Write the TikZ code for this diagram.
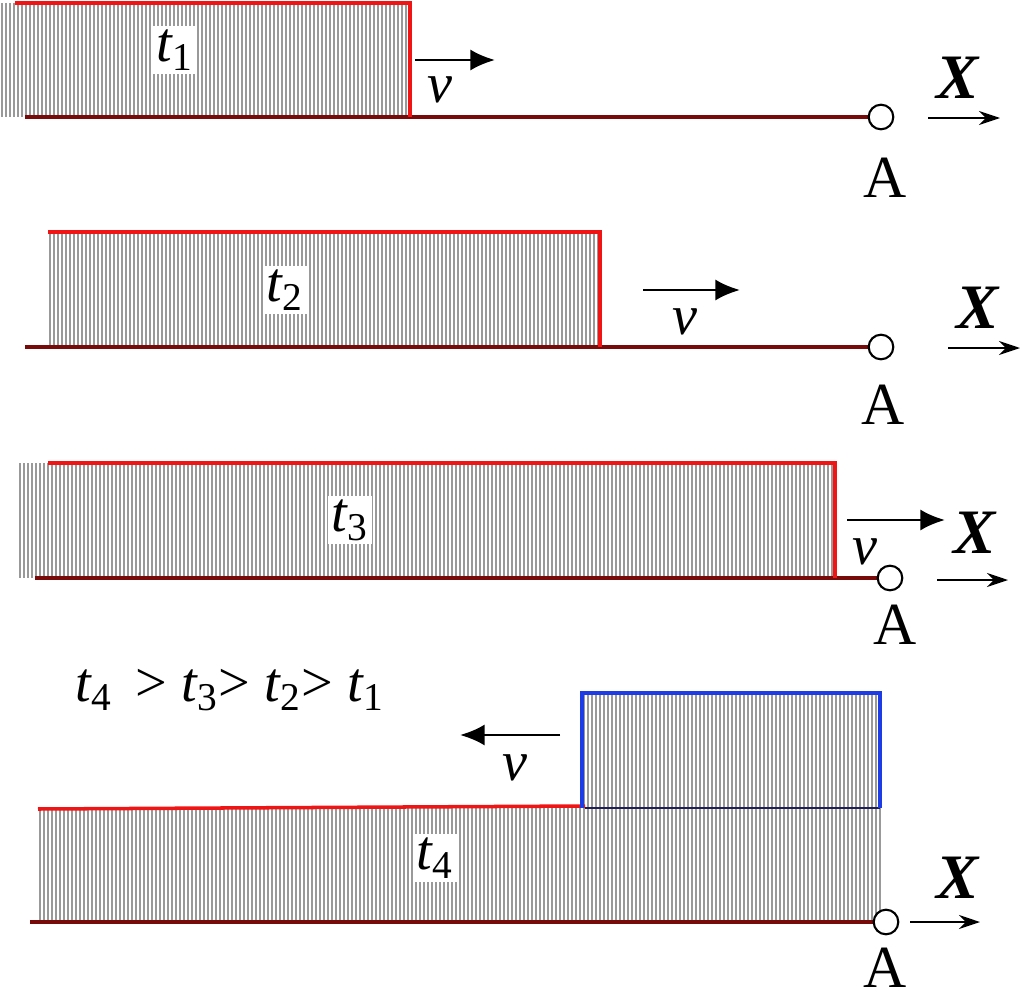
\documentclass[tikz,border=0pt]{standalone}
\usepackage{fontspec}
\setmainfont{Liberation Serif}
\usetikzlibrary{arrows.meta}
\definecolor{front}{RGB}{240, 20, 20}
\definecolor{back}{RGB}{30, 60, 230}
\definecolor{ground}{RGB}{120, 10, 10}
\definecolor{seam}{RGB}{30, 30, 90}
\tikzset{
  hatchline/.style={gray!80, line width=0.3pt},
  frontline/.style={front, line width=1pt},
  baseline/.style={ground, line width=1pt},
  velo/.style={-{Latex[length=7pt, width=6pt]}, line width=0.8pt},
  axis/.style={-{Stealth[length=6pt, width=4pt]}, line width=0.5pt},
  lbl/.style={font=\fontsize{16}{18}\selectfont\itshape, inner sep=1pt},
  tlbl/.style={lbl, fill=white},
  xlbl/.style={font=\fontsize{18}{20}\selectfont\bfseries\itshape},
  albl/.style={font=\fontsize{17}{20}\selectfont},
  point/.style={circle, draw, fill=white, line width=0.6pt, inner sep=0pt, minimum size=7pt}
}
\begin{document}
\begin{tikzpicture}[x=0.01cm, y=-0.01cm]
  \useasboundingbox (0, 0) rectangle (1024, 1000);

  % first moment
  \foreach \x in {2, 6, ..., 410} \draw[hatchline] (\x, 3) -- (\x, 117);
  \draw[baseline] (25, 117) -- (875, 117);
  \draw[frontline] (15, 3) -- (410, 3) -- (410, 117);
  \node[point] (A1) at (881, 117) {};
  \node[albl] (a1) at (885, 178) {A};
  \node[tlbl] (t1) at (175, 50) {t\textsubscript{\upshape 1}};
  \coordinate (v1s) at (415, 60); \coordinate (v1e) at (495, 60);
  \draw[velo] (v1s) -- (v1e);
  \node[lbl] (v1) at (440, 90) {v};
  \coordinate (x1s) at (928, 118); \coordinate (x1e) at (1000, 118);
  \draw[axis] (x1s) -- (x1e);
  \node[xlbl] (X1) at (958, 78) {X};

  % second moment
  \foreach \x in {50, 54, ..., 598} \draw[hatchline] (\x, 232) -- (\x, 347);
  \draw[baseline] (25, 347) -- (875, 347);
  \draw[frontline] (48, 232) -- (600, 232) -- (600, 347);
  \node[point] (A2) at (881, 347) {};
  \node[albl] (a2) at (883, 405) {A};
  \node[tlbl] (t2) at (285, 290) {t\textsubscript{\upshape 2}};
  \coordinate (v2s) at (643, 290); \coordinate (v2e) at (740, 290);
  \draw[velo] (v2s) -- (v2e);
  \node[lbl] (v2) at (685, 322) {v};
  \coordinate (x2s) at (948, 348); \coordinate (x2e) at (1020, 348);
  \draw[axis] (x2s) -- (x2e);
  \node[xlbl] (X2) at (978, 308) {X};

  % third moment
  \foreach \x in {20, 24, ..., 834} \draw[hatchline] (\x, 463) -- (\x, 578);
  \draw[baseline] (35, 578) -- (885, 578);
  \draw[frontline] (48, 463) -- (835, 463) -- (835, 578);
  \node[point] (A3) at (890, 578) {};
  \node[albl] (a3) at (895, 625) {A};
  \node[tlbl] (t3) at (350, 520) {t\textsubscript{\upshape 3}};
  \coordinate (v3s) at (847, 520); \coordinate (v3e) at (945, 520);
  \draw[velo] (v3s) -- (v3e);
  \node[lbl] (v3) at (865, 552) {v};
  \coordinate (x3s) at (937, 580); \coordinate (x3e) at (1008, 580);
  \draw[axis] (x3s) -- (x3e);
  \node[xlbl] (X3) at (975, 533) {X};

  \node[lbl] (order) at (230, 690)
    {t\textsubscript{\upshape 4}\, {\upshape >} t\textsubscript{\upshape 3}{\upshape >} t\textsubscript{\upshape 2}{\upshape >} t\textsubscript{\upshape 1}};

  % reflected wave
  \foreach \x in {40, 44, ..., 880} \draw[hatchline] (\x, 808) -- (\x, 922);
  \foreach \x in {584, 588, ..., 880} \draw[hatchline] (\x, 693) -- (\x, 808);
  \draw[baseline] (30, 922) -- (880, 922);
  \draw[frontline] (38, 809) -- (585, 806);
  \draw[seam, line width=0.4pt] (585, 808) -- (880, 808);
  \draw[back, line width=1.1pt] (582, 808) -- (582, 693) -- (880, 693) -- (880, 808);
  \node[point] (A4) at (886, 922) {};
  \node[albl] (a4) at (885, 968) {A};
  \node[tlbl] (t4) at (435, 858) {t\textsubscript{\upshape 4}};
  \coordinate (v4s) at (560, 735); \coordinate (v4e) at (460, 735);
  \draw[velo] (v4s) -- (v4e);
  \node[lbl] (v4) at (515, 768) {v};
  \coordinate (x4s) at (910, 922); \coordinate (x4e) at (980, 922);
  \draw[axis] (x4s) -- (x4e);
  \node[xlbl] (X4) at (958, 878) {X};
\end{tikzpicture}
\end{document}
